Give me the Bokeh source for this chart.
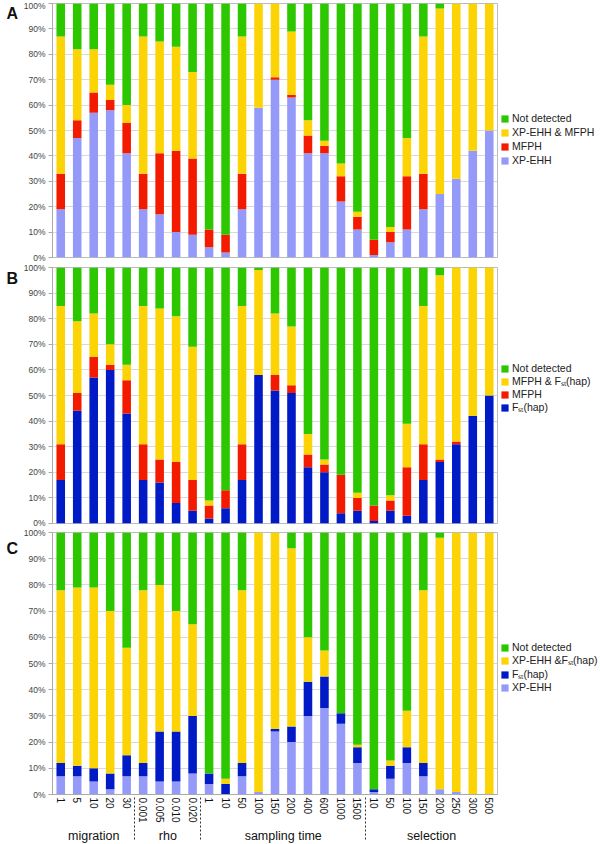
from bokeh.plotting import figure
from bokeh.models import FactorRange, Legend, LegendItem, FixedTicker, PrintfTickFormatter, ColumnDataSource, Range1d
from bokeh.layouts import column, row
from bokeh.core.properties import value
from bokeh.embed import file_html
from bokeh.resources import INLINE

# ---- categories ----
groups = ["migration"] * 5 + ["rho"] * 4 + ["sampling time"] * 10 + ["selection"] * 8
levels = ["1", "5", "10", "20", "30",
          "0.001", "0.005", "0.010", "0.020",
          "1", "10", "50", "100", "150", "200", "400", "600", "1000", "1500",
          "10", "50", "100", "150", "200", "250", "300", "500"]
factors = list(zip(groups, levels))
panel_letters = ["A", "B", "C"]

# ---- panel A (percent) ----
a_xpehh = [19, 47, 57, 58, 41, 19, 17, 10, 9, 4, 2, 19, 59, 70, 63, 41, 41, 22, 11, 1, 6, 11, 19, 25, 31, 42, 50]
a_mfph = [14, 7, 8, 4, 12, 14, 24, 32, 30, 7, 7, 14, 0, 1, 1, 7, 3, 10, 5, 6, 4, 21, 14, 0, 0, 0, 0]
a_both = [54, 28, 17, 6, 7, 54, 44, 41, 34, 0, 0, 54, 41, 29, 25, 6, 2, 5, 2, 0, 2, 15, 54, 73, 69, 58, 50]
a_notdet = [13, 18, 18, 32, 40, 13, 15, 17, 27, 89, 91, 13, 0, 0, 11, 46, 54, 63, 82, 93, 88, 53, 13, 2, 0, 0, 0]

# ---- panel B (percent) ----
b_fst = [17, 44, 57, 60, 43, 17, 16, 8, 5, 2, 6, 17, 58, 52, 51, 22, 20, 4, 5, 1, 5, 3, 17, 24, 31, 42, 50]
b_mfph = [14, 7, 8, 2, 13, 14, 9, 16, 12, 5, 7, 14, 0, 6, 3, 5, 3, 15, 5, 6, 4, 19, 14, 1, 1, 0, 0]
b_both = [54, 28, 17, 8, 6, 54, 59, 57, 52, 2, 0, 54, 41, 24, 23, 8, 2, 0, 2, 0, 2, 17, 54, 72, 68, 58, 50]
b_notdet = [15, 21, 18, 30, 38, 15, 16, 19, 31, 91, 87, 15, 1, 18, 23, 65, 75, 81, 88, 93, 89, 61, 15, 3, 0, 0, 0]

# ---- panel C (percent) ----
c_xpehh = [7, 7, 5, 2, 7, 7, 5, 5, 8, 4, 0, 7, 1, 24, 20, 30, 33, 27, 12, 1, 6, 12, 7, 2, 1, 0, 0]
c_fst = [5, 4, 5, 6, 8, 5, 19, 19, 22, 4, 4, 5, 0, 1, 6, 13, 12, 4, 6, 1, 5, 6, 5, 0, 0, 0, 0]
c_both = [66, 68, 69, 62, 41, 66, 56, 46, 35, 0, 2, 66, 99, 75, 68, 17, 10, 0, 1, 0, 2, 14, 66, 96, 99, 100, 100]
c_notdet = [22, 21, 21, 30, 44, 22, 20, 30, 35, 92, 94, 22, 0, 0, 6, 40, 45, 69, 81, 98, 87, 68, 22, 2, 0, 0, 0]

GREEN = "#2dc700"
YELLOW = "#fcd406"
RED = "#f21b00"
LIGHTBLUE = "#959af8"
DARKBLUE = "#001ac6"
FONT = "Liberation Sans"

LETTER_TOPS = [4, 269, 539]   # pixel offsets of the panel letters from the page top
PAGE_H = 840


def letter_fig():
    f = figure(width=20, height=PAGE_H, x_range=Range1d(0, 20), y_range=Range1d(PAGE_H, 0),
               output_backend="svg", toolbar_location=None,
               min_border=0, min_border_left=0, min_border_right=0,
               min_border_top=0, min_border_bottom=0)
    f.axis.visible = False
    f.grid.visible = False
    f.outline_line_color = None
    f.text(x=[6] * len(panel_letters), y=LETTER_TOPS, text=panel_letters,
           text_font=value(FONT), text_font_style="bold",
           text_font_size="16px", text_baseline="top", text_color="#111111")
    return f


def make_panel(series, names, colors, show_x, top, fh, bottom, leg_y, leg_fs, leg_sp):
    keys = ["s%d" % i for i in range(len(series))]
    data = {"x": factors}
    for k, s in zip(keys, series):
        data[k] = s
    src = ColumnDataSource(data)
    p = figure(x_range=FactorRange(*factors, group_padding=0, range_padding=0),
               y_range=(0, 100), frame_width=445, frame_height=fh,
               output_backend="svg", toolbar_location=None,
               min_border_left=29, min_border_top=top, min_border_right=0,
               min_border_bottom=0 if show_x else bottom)
    rs = p.vbar_stack(keys, x="x", width=0.52, color=colors, line_color=None, source=src)
    items = [LegendItem(label=n, renderers=[r]) for n, r in zip(names, rs)][::-1]
    leg = Legend(items=items, location=(3, leg_y), margin=0, padding=0,
                 border_line_color=None, background_fill_alpha=0,
                 glyph_width=9, glyph_height=9, label_height=12, spacing=leg_sp,
                 label_standoff=3, label_text_font=FONT, label_text_font_size=leg_fs,
                 label_text_line_height=1.0,
                 label_text_color="#222222")
    p.add_layout(leg, "right")

    p.yaxis.ticker = FixedTicker(ticks=list(range(0, 101, 10)))
    p.yaxis.formatter = PrintfTickFormatter(format="%d%%")
    p.yaxis.major_label_text_font = FONT
    p.yaxis.major_label_text_font_size = "8.5px"
    p.yaxis.major_label_text_color = "#444444"
    p.yaxis.axis_line_color = "#aaaaaa"
    p.yaxis.major_tick_line_color = "#aaaaaa"
    p.yaxis.major_tick_in = 0
    p.yaxis.major_tick_out = 4
    p.yaxis.minor_tick_line_color = None
    p.yaxis.major_label_standoff = 3
    p.ygrid.grid_line_color = "#d9d9d9"
    p.xgrid.grid_line_color = None
    p.outline_line_color = "#bbbbbb"

    if show_x:
        ax = p.xaxis[0]
        ax.major_label_orientation = "vertical"
        ax.major_label_text_font = FONT
        ax.major_label_text_font_size = "10px"
        ax.major_label_text_color = "#111111"
        ax.group_text_font = FONT
        ax.group_text_font_size = "12.5px"
        ax.group_text_font_style = "normal"
        ax.group_text_color = "#111111"
        ax.separator_line_color = "#333333"
        ax.separator_line_width = 1
        ax.separator_line_dash = "2 2"
        ax.major_tick_line_color = None
        ax.major_tick_out = 0
        ax.major_tick_in = 0
        ax.axis_line_color = "#aaaaaa"
        ax.major_label_standoff = 3
    else:
        p.xaxis.visible = False
    return p


pa = make_panel([a_xpehh, a_mfph, a_both, a_notdet],
                ["XP-EHH", "MFPH", "XP-EHH & MFPH", "Not detected"],
                [LIGHTBLUE, RED, YELLOW, GREEN], False, 3, 254, 5, 91, "10.5px", 2)
pb = make_panel([b_fst, b_mfph, b_both, b_notdet],
                ["Fₛₜ(hap)", "MFPH", "MFPH & Fₛₜ(hap)", "Not detected"],
                [DARKBLUE, RED, YELLOW, GREEN], False, 5, 256, 4, 109, "10.5px", 0)
pc = make_panel([c_xpehh, c_fst, c_both, c_notdet],
                ["XP-EHH", "Fₛₜ(hap)", "XP-EHH &Fₛₜ(hap)", "Not detected"],
                [LIGHTBLUE, DARKBLUE, YELLOW, GREEN], True, 5, 262, 0, 101, "10.5px", 0)

layout = row(letter_fig(), column(pa, pb, pc, spacing=0), spacing=0)
open("out.html", "w").write(file_html(layout, INLINE))
